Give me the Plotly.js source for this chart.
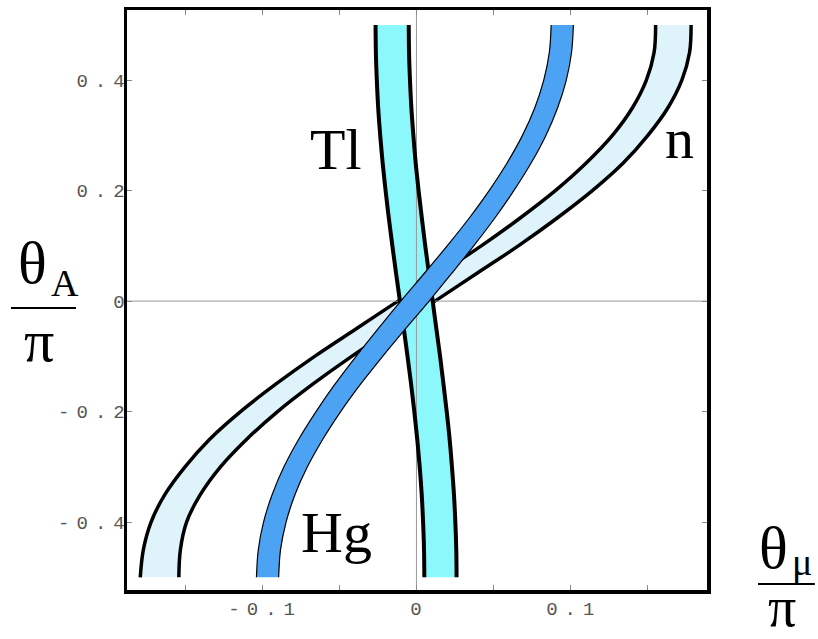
<!DOCTYPE html>
<html>
<head>
<meta charset="utf-8">
<script src="https://cdn.plot.ly/plotly-3.0.1.min.js"></script>
<style>
html,body{margin:0;padding:0;background:#fff;}
#chart{width:818px;height:639px;}
.xtick text, .ytick text { letter-spacing: 7px; }
</style>
</head>
<body>
<div id="chart"></div>
<script>
// theta_A / pi sample positions
const thetaA = [-0.5,-0.45,-0.4,-0.35,-0.3,-0.25,-0.2,-0.15,-0.1,-0.05,0,0.05,0.1,0.15,0.2,0.25,0.3,0.35,0.4,0.45,0.5];
// n band boundaries (theta_mu / pi)
const nLeft  = [-0.179,-0.177,-0.172,-0.163,-0.150,-0.134,-0.114,-0.091,-0.066,-0.039,-0.012,0.015,0.042,0.067,0.090,0.110,0.127,0.140,0.149,0.154,0.155];
const nRight = [-0.154,-0.153,-0.149,-0.140,-0.127,-0.110,-0.090,-0.067,-0.042,-0.015,0.012,0.039,0.066,0.091,0.114,0.134,0.150,0.163,0.172,0.177,0.178];
// Hg band boundaries
const hgLeft  = [-0.1037,-0.1025,-0.0991,-0.0935,-0.0859,-0.0763,-0.0651,-0.0527,-0.0391,-0.0248,-0.0102,0.0050,0.0199,0.0341,0.0471,0.0587,0.0687,0.0767,0.0825,0.0861,0.0873];
const hgRight = [-0.0893,-0.0881,-0.0845,-0.0787,-0.0707,-0.0607,-0.0491,-0.0361,-0.0219,-0.0070,0.0082,0.0228,0.0371,0.0507,0.0631,0.0743,0.0839,0.0915,0.0971,0.1005,0.1017];
// Tl band boundaries
const tlLeft  = [0.0051,0.0049,0.0043,0.0034,0.0021,0.0005,-0.0014,-0.0035,-0.0058,-0.0082,-0.0107,-0.0132,-0.0156,-0.0179,-0.0200,-0.0219,-0.0235,-0.0248,-0.0257,-0.0263,-0.0265];
const tlRight = [0.0260,0.0258,0.0252,0.0243,0.0230,0.0215,0.0196,0.0175,0.0153,0.0129,0.0105,0.0081,0.0057,0.0035,0.0014,-0.0005,-0.0020,-0.0033,-0.0042,-0.0048,-0.0050];

const xTickVals = [-0.15,-0.1,-0.05,0,0.05,0.1,0.15];
const xTickText = ['','-0.1','','0','','0.1',''];
const yTickVals = [-0.4,-0.2,0,0.2,0.4];
const yTickText = ['-0.4','-0.2','0','0.2','0.4'];
const xRange = [-0.1876, 0.1883];
const yRange = [-0.523, 0.527];

function band(L, R, fillColor) {
  return {
    x: L.concat(R.slice().reverse()),
    y: thetaA.concat(thetaA.slice().reverse()),
    mode: 'lines', fill: 'toself', fillcolor: fillColor,
    line: {width: 0, color: fillColor}, hoverinfo: 'skip', showlegend: false
  };
}
function edge(X, w) {
  return {x: X, y: thetaA, mode: 'lines', line: {color: '#000', width: w, shape: 'spline'}, showlegend: false, hoverinfo: 'skip'};
}
const zeroColor = '#9a9a9a';
const traces = [
  band(nLeft, nRight, 'rgb(222,243,250)'),
  edge(nLeft, 3.5), edge(nRight, 3.5),
  band(tlLeft, tlRight, 'rgb(140,248,252)'),
  {x: xRange, y: [0,0], mode: 'lines', line: {color: zeroColor, width: 1}, showlegend: false, hoverinfo: 'skip'},
  {x: [0,0], y: yRange, mode: 'lines', line: {color: zeroColor, width: 1}, showlegend: false, hoverinfo: 'skip'},
  edge(tlLeft, 4), edge(tlRight, 4),
  band(hgLeft, hgRight, 'rgb(76,162,243)'),
  edge(hgLeft, 1.2), edge(hgRight, 1.2)
];

const serif = 'Liberation Serif, Times New Roman, serif';
function ann(text, x, y, size, xa) {
  return {text: text, x: x, y: y, xref: 'paper', yref: 'paper', showarrow: false,
          xanchor: xa || 'center', yanchor: 'middle', font: {family: serif, size: size, color: '#000'}};
}
const monoFont = {family: 'Liberation Mono, Courier New, monospace', size: 19, color: '#555'};

const layout = {
  width: 818, height: 639,
  margin: {l: 127, r: 111, t: 10, b: 49},
  paper_bgcolor: '#fff', plot_bgcolor: '#fff',
  showlegend: false,
  xaxis: {
    range: xRange, tickvals: xTickVals, ticktext: xTickText,
    ticks: 'inside', ticklen: 5, tickwidth: 1, tickcolor: '#888',
    showline: true, linecolor: '#000', linewidth: 3.5, mirror: 'allticks',
    showgrid: false, zeroline: false, ticklabelstandoff: -1, ticklabelshift: 3,
    tickfont: monoFont
  },
  yaxis: {
    range: yRange, tickvals: yTickVals, ticktext: yTickText,
    ticks: 'inside', ticklen: 5, tickwidth: 1, tickcolor: '#888',
    showline: true, linecolor: '#000', linewidth: 3.5, mirror: 'allticks',
    showgrid: false, zeroline: false, ticklabelstandoff: -12,
    tickfont: monoFont
  },
  annotations: [
    ann('Tl', 0.361, 0.759, 58),
    ann('n', 0.953, 0.779, 58),
    ann('Hg', 0.362, 0.100, 58),
    ann('θ', (49 - 127) / 580, 0.5638, 60, 'right'),
    ann('A', (49 - 127) / 580, 0.529, 38, 'left'),
    ann('π', -0.1517, 0.430, 60),
    ann('θ', (790 - 127) / 580, 0.0724, 60, 'right'),
    ann('μ', (790 - 127) / 580, 0.0483, 38, 'left'),
    ann('π', 1.129, -0.030, 56)
  ],
  shapes: [
    {type: 'line', xref: 'paper', yref: 'paper', x0: -0.2, x1: -0.0879, y0: 0.486, y1: 0.486, line: {color: '#000', width: 2}},
    {type: 'line', xref: 'paper', yref: 'paper', x0: 1.088, x1: 1.186, y0: 0.0103, y1: 0.0103, line: {color: '#000', width: 2}}
  ]
};

Plotly.newPlot('chart', traces, layout, {staticPlot: true, displayModeBar: false});
</script>
</body>
</html>
